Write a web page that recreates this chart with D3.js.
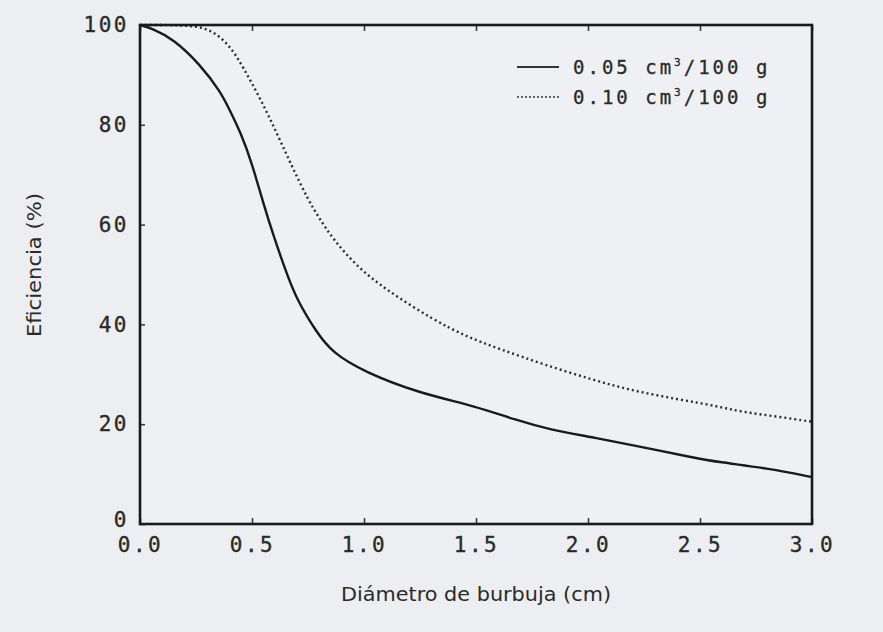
<!DOCTYPE html>
<html>
<head>
<meta charset="utf-8">
<script src="https://cdn.jsdelivr.net/npm/d3@7"></script>
<style>
  body { margin: 0; background: #eceef1; }
  svg { display: block; }
</style>
</head>
<body>
<script>
// data
const diam05 = [0, 0.05, 0.15, 0.27, 0.36, 0.4, 0.45, 0.5, 0.55, 0.6, 0.65, 0.7, 0.79, 0.86, 1.0, 1.24, 1.5, 1.68, 1.83, 2.02, 2.2, 2.46, 2.58, 2.8, 3.0]
const eff05 = [100, 99.4, 97.2, 92, 86.6, 83, 78.4, 72.3, 64.3, 57.2, 50.8, 44.9, 38.3, 34.3, 30.5, 26.3, 23.6, 20.8, 18.9, 17.4, 15.8, 13.4, 12.4, 11.2, 9.4]

const diam10 = [0, 0.2, 0.31, 0.40, 0.46, 0.54, 0.61, 0.68, 0.75, 0.8, 0.86, 0.97, 1.1, 1.31, 1.46, 1.61, 1.8, 2.02, 2.2, 2.4, 2.58, 2.68, 2.85, 3.0]
const eff10 = [100, 100, 99.4, 96, 91.6, 85, 78.4, 71.5, 65, 61.3, 57.2, 51.5, 46.9, 40.9, 37.5, 35, 32, 28.9, 26.7, 25, 23.6, 22.5, 21.5, 20.5]

const xTicks = [0, 0.5, 1.0, 1.5, 2.0, 2.5, 3.0]
const yTicks = [0, 20, 40, 60, 80, 100]
const legendLabels = ["0.05", "0.10"]

const w = 883
const h = 632
const m = {left: 140, right: 71, top: 25, bottom: 108}

const svg = d3.select("body").append("svg")
    .attr("width", w)
    .attr("height", h)

svg.append("rect").attr("width", w).attr("height", h).attr("fill", "#eceef1")

const xScale = d3.scaleLinear().domain([0, 3]).range([m.left, w - m.right])
const yScale = d3.scaleLinear().domain([0, 100]).range([h - m.bottom, m.top])

// plot area
svg.append("rect")
    .attr("x", xScale(0)).attr("y", yScale(100))
    .attr("width", xScale(3) - xScale(0))
    .attr("height", yScale(0) - yScale(100))
    .attr("fill", "#eef0f3")

const monoFont = "'DejaVu Sans Mono', monospace"
const sansFont = "'DejaVu Sans', Verdana, sans-serif"

const styleTicks = g => g.selectAll("text")
    .attr("font-family", monoFont).attr("font-size", 21)
    .attr("letter-spacing", 2.5).attr("fill", "#2a2a2a")
    .attr("stroke", "#2a2a2a").attr("stroke-width", 0.35)

//Axes
const xAxis = d3.axisBottom(xScale).tickValues(xTicks).tickSize(-6).tickPadding(13)
    .tickFormat(d3.format(".1f"))
svg.append("g")
    .attr("transform", "translate(0," + yScale(0) + ")")
    .call(xAxis)
    .call(g => g.select(".domain").remove())
    .call(g => g.selectAll("line").attr("stroke", "#333").attr("stroke-width", 1.5))
    .call(styleTicks)

// ticks on top edge
svg.append("g")
    .attr("transform", "translate(0," + yScale(100) + ")")
    .call(d3.axisTop(xScale).tickValues(xTicks).tickSize(-6).tickFormat(""))
    .call(g => g.select(".domain").remove())
    .call(g => g.selectAll("line").attr("stroke", "#333").attr("stroke-width", 1.5))

const yAxis = d3.axisLeft(yScale).tickValues(yTicks).tickSize(-5).tickPadding(11)
svg.append("g")
    .attr("transform", "translate(" + xScale(0) + ",0)")
    .call(yAxis)
    .call(g => g.select(".domain").remove())
    .call(g => g.selectAll("line").attr("stroke", "#333").attr("stroke-width", 1.5))
    .call(styleTicks)
    .call(g => g.selectAll(".tick").filter(d => d == 0).select("text").attr("dy", "0.1em"))

//curves
const line = d3.line()
    .x(d => xScale(d[0]))
    .y(d => yScale(d[1]))
    .curve(d3.curveBasis)

svg.append("path")
    .datum(d3.zip(diam05, eff05))
    .attr("d", line)
    .attr("fill", "none")
    .attr("stroke", "#1a1a1a")
    .attr("stroke-width", 2.4)

svg.append("path")
    .datum(d3.zip(diam10, eff10))
    .attr("d", line)
    .attr("fill", "none")
    .attr("stroke", "#2e2e2e")
    .attr("stroke-width", 2.4)
    .attr("stroke-dasharray", "2,3")

// frame
svg.append("rect")
    .attr("x", xScale(0)).attr("y", yScale(100))
    .attr("width", xScale(3) - xScale(0))
    .attr("height", yScale(0) - yScale(100))
    .attr("fill", "none")
    .attr("stroke", "#1a1a1a")
    .attr("stroke-width", 2.6)

//legend
const legend = svg.append("g").attr("transform", "translate(517,67)")
legendLabels.forEach((lab, i) => {
    const g = legend.append("g").attr("transform", "translate(0," + i * 30 + ")")
    g.append("line")
        .attr("x1", 0).attr("x2", 42)
        .attr("stroke", "#333")
        .attr("stroke-width", i == 0 ? 1.8 : 1.6)
        .attr("stroke-dasharray", i == 0 ? null : "2,2")
    const t = g.append("text")
        .attr("x", 56).attr("dy", "0.35em")
        .attr("font-family", monoFont).attr("font-size", 19)
        .attr("letter-spacing", 3).attr("fill", "#2a2a2a")
        .attr("stroke", "#2a2a2a").attr("stroke-width", 0.3)
    t.append("tspan").text(lab + " cm")
    t.append("tspan").attr("dy", -8).attr("font-size", 11).text("3")
    t.append("tspan").attr("dy", 8).text("/100 g")
})

//axis titles
svg.append("text")
    .attr("x", (xScale(0) + xScale(3)) / 2)
    .attr("y", 601)
    .attr("text-anchor", "middle")
    .attr("font-family", sansFont)
    .attr("font-size", 19.5)
    .attr("textLength", 270)
    .attr("lengthAdjust", "spacingAndGlyphs")
    .attr("fill", "#2a2a2a")
    .text("Diámetro de burbuja (cm)")

svg.append("text")
    .attr("transform", "translate(41," + 265 + ") rotate(-90)")
    .attr("text-anchor", "middle")
    .attr("font-family", sansFont)
    .attr("font-size", 19.5)
    .attr("textLength", 144)
    .attr("lengthAdjust", "spacingAndGlyphs")
    .attr("fill", "#2a2a2a")
    .text("Eficiencia (%)")
</script>
</body>
</html>
